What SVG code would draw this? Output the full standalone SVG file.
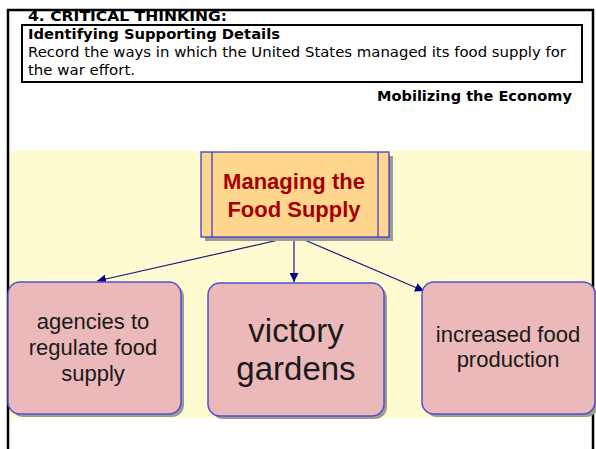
<svg xmlns="http://www.w3.org/2000/svg" width="596" height="449" viewBox="0 0 596 449">
<style>
.hdr{font-family:"DejaVu Sans","Liberation Sans",sans-serif;font-size:14px;fill:#000}
.b{font-weight:bold}
.leaf{fill:#EBB9B9;stroke:#5050CC;stroke-width:1.5}
.shadow{fill:#9A9A9A}
.lt{font-family:"Liberation Sans",Arial,sans-serif;fill:#1a1a1a;text-anchor:middle}
.conn{stroke:#1A1A80;stroke-width:1.2;fill:none;marker-end:url(#ah)}
.mt{font-family:"Liberation Sans",Arial,sans-serif;font-weight:bold;font-size:22px;fill:#A50000;text-anchor:middle}
</style>
<defs>
<marker id="ah" viewBox="0 0 10 10" refX="10" refY="5" markerWidth="9" markerHeight="9" markerUnits="userSpaceOnUse" orient="auto">
<path d="M0,0 L10,5 L0,10 z" fill="#000080"/>
</marker>
</defs>
<rect width="596" height="449" fill="#fff"/>
<rect x="9" y="151" width="585" height="267" fill="#FFFBD0"/>
<g id="frame" fill="none" stroke="#000">
<path d="M8,449 V10 H593 V449" stroke-width="2.5"/>
<rect x="22" y="25" width="560" height="57" stroke-width="2"/>
</g>
<g id="header">
<text class="hdr b" x="28" y="21" textLength="199" lengthAdjust="spacingAndGlyphs">4. CRITICAL THINKING:</text>
<text class="hdr b" x="28" y="39" textLength="252" lengthAdjust="spacingAndGlyphs">Identifying Supporting Details</text>
<text class="hdr" x="28" y="57" textLength="538" lengthAdjust="spacingAndGlyphs">Record the ways in which the United States managed its food supply for</text>
<text class="hdr" x="28" y="75" textLength="107" lengthAdjust="spacingAndGlyphs">the war effort.</text>
<text class="hdr b" x="572" y="101" text-anchor="end" textLength="195" lengthAdjust="spacingAndGlyphs">Mobilizing the Economy</text>
</g>
<g id="connectors">
<line class="conn" x1="283" y1="239" x2="97" y2="281"/>
<line class="conn" x1="294" y1="238" x2="294" y2="282"/>
<line class="conn" x1="300" y1="238" x2="424" y2="291"/>
</g>
<g id="node-main">
<rect class="shadow" x="205" y="156" width="188" height="85"/>
<rect x="201" y="152" width="188" height="85" fill="#FFD68E" stroke="#3333CC" stroke-width="1.2"/>
<line x1="212" y1="152" x2="212" y2="237" stroke="#3333CC" stroke-width="1.2"/>
<line x1="378" y1="152" x2="378" y2="237" stroke="#3333CC" stroke-width="1.2"/>
<text class="mt" x="294" y="189">Managing the</text>
<text class="mt" x="294" y="217">Food Supply</text>
</g>
<g id="node-agencies">
<rect class="shadow" x="11" y="285" width="173" height="132" rx="12"/>
<rect class="leaf" x="8" y="282" width="173" height="132" rx="12"/>
<text class="lt" font-size="22" x="93" y="329">agencies to</text>
<text class="lt" font-size="22" x="93" y="355">regulate food</text>
<text class="lt" font-size="22" x="93" y="381">supply</text>
</g>
<g id="node-victory">
<rect class="shadow" x="211" y="286" width="176" height="133" rx="12"/>
<rect class="leaf" x="208" y="283" width="176" height="133" rx="12"/>
<text class="lt" font-size="33" x="296" y="342">victory</text>
<text class="lt" font-size="33" x="296" y="380">gardens</text>
</g>
<g id="node-production">
<rect class="shadow" x="425" y="285" width="173" height="132" rx="12"/>
<rect class="leaf" x="422" y="282" width="173" height="132" rx="12"/>
<text class="lt" font-size="22" x="508" y="342">increased food</text>
<text class="lt" font-size="22" x="508" y="367">production</text>
</g>
</svg>
